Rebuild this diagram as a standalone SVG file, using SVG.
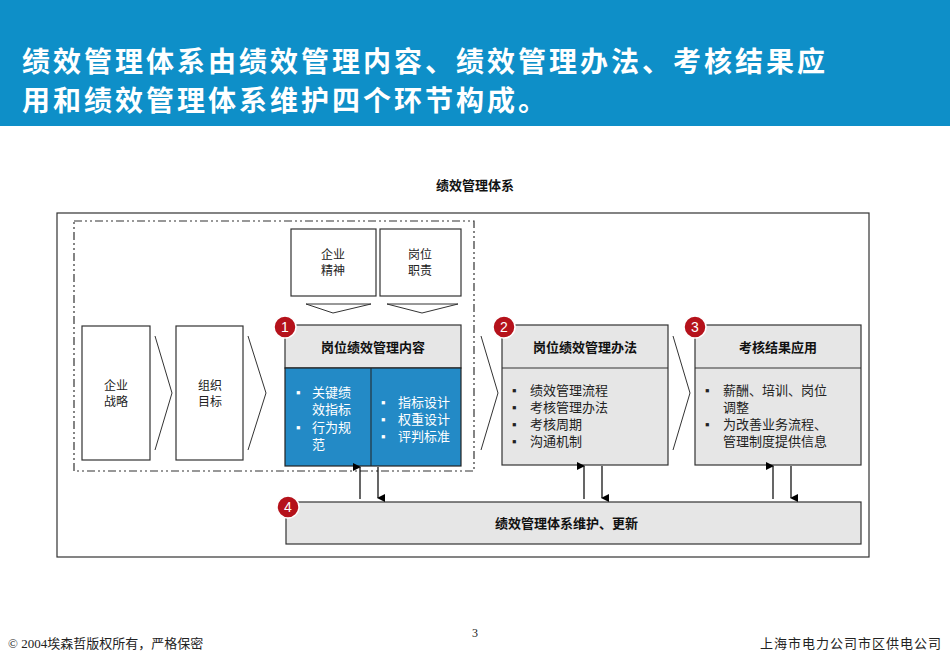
<svg xmlns="http://www.w3.org/2000/svg" width="950" height="658" viewBox="0 0 950 658">
<style>
.t{font-family:"Liberation Serif","Noto Sans CJK SC",serif;font-size:12px;fill:#222}
.b{font-family:"Liberation Sans","Noto Sans CJK SC",sans-serif;font-size:13px;font-weight:bold;fill:#111}
.box{fill:#fff;stroke:#333;stroke-width:1.2}
.g{fill:#e6e6e6;stroke:#333;stroke-width:1.2}
.ch{fill:#fff;stroke:#333;stroke-width:1}
.badge{fill:#b5121b;stroke:#fff;stroke-width:1.5}
.bn{font-family:"Liberation Sans",sans-serif;font-size:14px;fill:#fff;text-anchor:middle}
.w{font-family:"Liberation Serif","Noto Sans CJK SC",serif;font-size:13px;fill:#fff}
.l{font-family:"Liberation Serif","Noto Sans CJK SC",serif;font-size:13px;fill:#222}
</style>
<defs><marker id="ah" markerWidth="8" markerHeight="8" refX="4" refY="7" orient="auto-start-reverse" markerUnits="userSpaceOnUse"><path d="M0,0 L8,0 L4,8 z" fill="#000"/></marker></defs>
<rect width="950" height="658" fill="#fff"/>
<rect x="0" y="0" width="950" height="126" fill="#0e8fc8"/>
<text x="22" y="72" font-family="Liberation Serif,Noto Sans CJK SC,serif" font-size="28" font-weight="bold" fill="#fff" letter-spacing="3">绩效管理体系由绩效管理内容、绩效管理办法、考核结果应</text>
<text x="22" y="111" font-family="Liberation Serif,Noto Sans CJK SC,serif" font-size="28" font-weight="bold" fill="#fff" letter-spacing="3">用和绩效管理体系维护四个环节构成。</text>
<text x="475" y="190" class="b" text-anchor="middle">绩效管理体系</text>
<rect x="57" y="213" width="812" height="344" fill="none" stroke="#333" stroke-width="1.2"/>
<rect x="74" y="221" width="400" height="250" fill="none" stroke="#333" stroke-width="1.2" stroke-dasharray="8,3,2,3,2,3"/>
<g id="n-strategy"><rect class="box" x="82" y="326" width="68" height="134"/><text class="t" x="116" y="390" text-anchor="middle">企业</text><text class="t" x="116" y="406" text-anchor="middle">战略</text></g>
<g id="n-goal"><rect class="box" x="176" y="326" width="67" height="134"/><text class="t" x="210" y="390" text-anchor="middle">组织</text><text class="t" x="210" y="406" text-anchor="middle">目标</text></g>
<g id="n-spirit"><rect class="box" x="291" y="229" width="85" height="67"/><text class="t" x="333" y="259" text-anchor="middle">企业</text><text class="t" x="333" y="275" text-anchor="middle">精神</text></g>
<g id="n-duty"><rect class="box" x="380" y="229" width="81" height="67"/><text class="t" x="420" y="259" text-anchor="middle">岗位</text><text class="t" x="420" y="275" text-anchor="middle">职责</text></g>
<g id="chevrons">
<path class="ch" d="M155,336 L172,393 L155,450"/>
<path class="ch" d="M248,336 L266,393 L248,450"/>
<path class="ch" d="M481,336 L498,393 L481,450"/>
<path class="ch" d="M673,336 L690,393 L673,450"/>
<path class="ch" d="M306,304 L333,313 L371,304 Z"/>
<path class="ch" d="M387,304 L422,313 L458,304 Z"/>
</g>
<g id="n-content">
<rect class="g" x="285" y="325" width="176" height="43"/>
<text class="b" x="373" y="352" text-anchor="middle">岗位绩效管理内容</text>
<rect x="285" y="368" width="176" height="98" fill="#238ac6" stroke="#222" stroke-width="1.2"/>
<line x1="371" y1="368" x2="371" y2="466" stroke="#222" stroke-width="1"/>
<text class="w" x="296" y="397">▪</text><text class="w" x="312" y="397">关键绩</text><text class="w" x="312" y="414">效指标</text>
<text class="w" x="296" y="432">▪</text><text class="w" x="312" y="432">行为规</text><text class="w" x="312" y="449">范</text>
<text class="w" x="381" y="407">▪</text><text class="w" x="398" y="407">指标设计</text>
<text class="w" x="381" y="424">▪</text><text class="w" x="398" y="424">权重设计</text>
<text class="w" x="381" y="441">▪</text><text class="w" x="398" y="441">评判标准</text>
<circle class="badge" cx="285" cy="327" r="11"/><text class="bn" x="285" y="332">1</text>
</g>
<g id="n-method">
<rect class="g" x="502" y="325" width="166" height="140"/>
<line x1="502" y1="368" x2="668" y2="368" stroke="#333"/>
<text class="b" x="585" y="352" text-anchor="middle">岗位绩效管理办法</text>
<text class="l" x="512" y="395">▪</text><text class="l" x="530" y="395">绩效管理流程</text>
<text class="l" x="512" y="412">▪</text><text class="l" x="530" y="412">考核管理办法</text>
<text class="l" x="512" y="429">▪</text><text class="l" x="530" y="429">考核周期</text>
<text class="l" x="512" y="446">▪</text><text class="l" x="530" y="446">沟通机制</text>
<circle class="badge" cx="504" cy="327" r="11"/><text class="bn" x="504" y="332">2</text>
</g>
<g id="n-result">
<rect class="g" x="695" y="325" width="166" height="140"/>
<line x1="695" y1="368" x2="861" y2="368" stroke="#333"/>
<text class="b" x="778" y="352" text-anchor="middle">考核结果应用</text>
<text class="l" x="705" y="395">▪</text><text class="l" x="723" y="395">薪酬、培训、岗位</text>
<text class="l" x="723" y="412">调整</text>
<text class="l" x="705" y="429">▪</text><text class="l" x="723" y="429">为改善业务流程、</text>
<text class="l" x="723" y="446">管理制度提供信息</text>
<circle class="badge" cx="695" cy="327" r="11"/><text class="bn" x="695" y="332">3</text>
</g>
<g id="n-maint">
<rect class="g" x="286" y="502" width="575" height="42"/>
<text class="b" x="495" y="528">绩效管理体系维护、更新</text>
<circle class="badge" cx="288" cy="507" r="11"/><text class="bn" x="288" y="512">4</text>
</g>
<g id="connectors" stroke="#000" stroke-width="1.2">
<line x1="360" y1="499" x2="360" y2="467" marker-end="url(#ah)"/>
<line x1="378" y1="467" x2="378" y2="498" marker-end="url(#ah)"/>
<line x1="584" y1="499" x2="584" y2="466" marker-end="url(#ah)"/>
<line x1="602" y1="466" x2="602" y2="498" marker-end="url(#ah)"/>
<line x1="773" y1="499" x2="773" y2="466" marker-end="url(#ah)"/>
<line x1="791" y1="466" x2="791" y2="498" marker-end="url(#ah)"/>
</g>
<text x="475" y="637" font-family="Liberation Serif,serif" font-size="12" fill="#222" text-anchor="middle">3</text>
<text x="8" y="648" font-family="Liberation Serif,Noto Sans CJK SC,serif" font-size="13" fill="#222">© 2004埃森哲版权所有，严格保密</text>
<text x="942" y="648" font-family="Liberation Serif,Noto Sans CJK SC,serif" font-size="13" fill="#222" text-anchor="end" letter-spacing="1">上海市电力公司市区供电公司</text>
</svg>
